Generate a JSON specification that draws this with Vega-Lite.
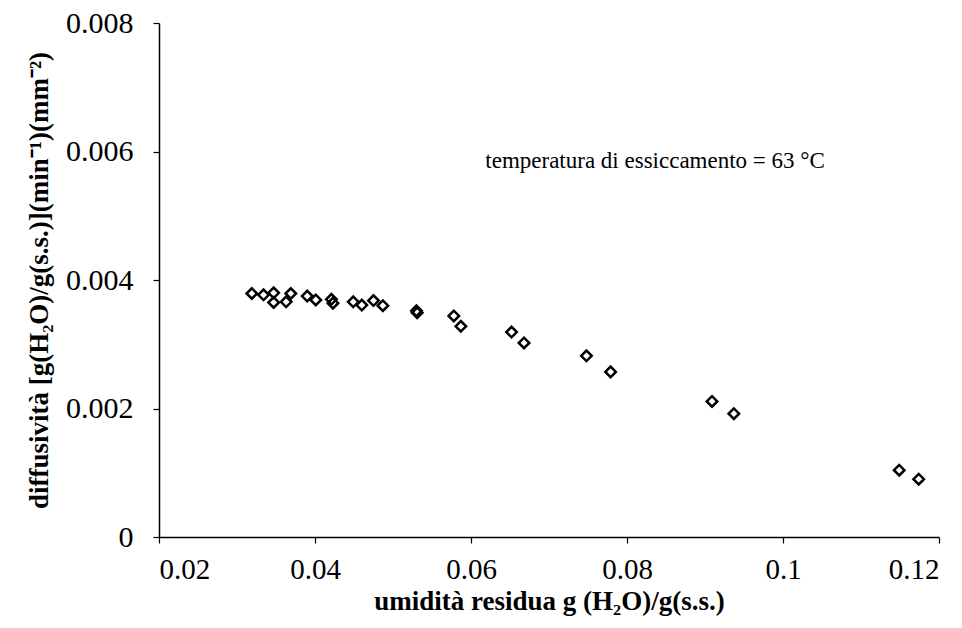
{
  "$schema": "https://vega.github.io/schema/vega-lite/v6.json",
  "autosize": "none",
  "width": 780,
  "height": 514,
  "padding": {"left": 159, "top": 23, "right": 23, "bottom": 91},
  "background": "white",
  "config": {
    "view": {"stroke": null},
    "font": "Liberation Serif",
    "axis": {
      "grid": false,
      "domainColor": "black",
      "tickColor": "black",
      "domainWidth": 1.5,
      "tickWidth": 1.2,
      "labelColor": "black",
      "titleColor": "black",
      "labelFont": "Liberation Serif",
      "titleFont": "Liberation Serif"
    }
  },
  "datasets": {
    "points": [
      {"umidita": 0.0319, "diffusivita": 0.00379},
      {"umidita": 0.0334, "diffusivita": 0.00377},
      {"umidita": 0.0347, "diffusivita": 0.00380},
      {"umidita": 0.0347, "diffusivita": 0.00365},
      {"umidita": 0.0363, "diffusivita": 0.00366},
      {"umidita": 0.0369, "diffusivita": 0.00379},
      {"umidita": 0.0390, "diffusivita": 0.00375},
      {"umidita": 0.0401, "diffusivita": 0.00369},
      {"umidita": 0.0421, "diffusivita": 0.00370},
      {"umidita": 0.0423, "diffusivita": 0.00364},
      {"umidita": 0.0449, "diffusivita": 0.00366},
      {"umidita": 0.0460, "diffusivita": 0.00361},
      {"umidita": 0.0475, "diffusivita": 0.00368},
      {"umidita": 0.0487, "diffusivita": 0.00360},
      {"umidita": 0.0530, "diffusivita": 0.00352},
      {"umidita": 0.0531, "diffusivita": 0.00349},
      {"umidita": 0.0578, "diffusivita": 0.00344},
      {"umidita": 0.0587, "diffusivita": 0.00328},
      {"umidita": 0.0652, "diffusivita": 0.00319},
      {"umidita": 0.0668, "diffusivita": 0.00302},
      {"umidita": 0.0748, "diffusivita": 0.00282},
      {"umidita": 0.0779, "diffusivita": 0.00257},
      {"umidita": 0.0909, "diffusivita": 0.00211},
      {"umidita": 0.0937, "diffusivita": 0.00192},
      {"umidita": 0.1149, "diffusivita": 0.00104},
      {"umidita": 0.1174, "diffusivita": 0.00090}
    ],
    "note": [
      {"umidita": 0.0836, "diffusivita": 0.00585, "label": "temperatura di essiccamento = 63 °C"}
    ]
  },
  "layer": [
    {
      "data": {"name": "points"},
      "mark": {"type": "point", "shape": "diamond", "filled": false, "color": "black", "strokeWidth": 2.5, "size": 110, "opacity": 1},
      "encoding": {
        "x": {
          "field": "umidita", "type": "quantitative",
          "scale": {"domain": [0.02, 0.12], "nice": false, "zero": false},
          "axis": {
            "values": [0.02, 0.04, 0.06, 0.08, 0.1, 0.12],
            "format": "~g",
            "labelFontSize": 29,
            "labelPadding": 12,
            "tickSize": 6,
            "title": "umidità residua g (H₂O)/g(s.s.)",
            "titleFontSize": 27,
            "titleFontWeight": "bold",
            "titlePadding": 4
          }
        },
        "y": {
          "field": "diffusivita", "type": "quantitative",
          "scale": {"domain": [0, 0.008], "nice": false},
          "axis": {
            "values": [0, 0.002, 0.004, 0.006, 0.008],
            "format": "~g",
            "labelFontSize": 30,
            "labelPadding": 20,
            "tickSize": 6,
            "title": "diffusività [g(H₂O)/g(s.s.)](min⁻¹)(mm⁻²)",
            "titleFontSize": 27,
            "titleFontWeight": "bold",
            "titlePadding": 12
          }
        }
      }
    },
    {
      "data": {"name": "note"},
      "mark": {"type": "text", "align": "center", "baseline": "middle", "fontSize": 23, "font": "Liberation Serif", "color": "black"},
      "encoding": {
        "x": {"field": "umidita", "type": "quantitative"},
        "y": {"field": "diffusivita", "type": "quantitative"},
        "text": {"field": "label"}
      }
    }
  ]
}
